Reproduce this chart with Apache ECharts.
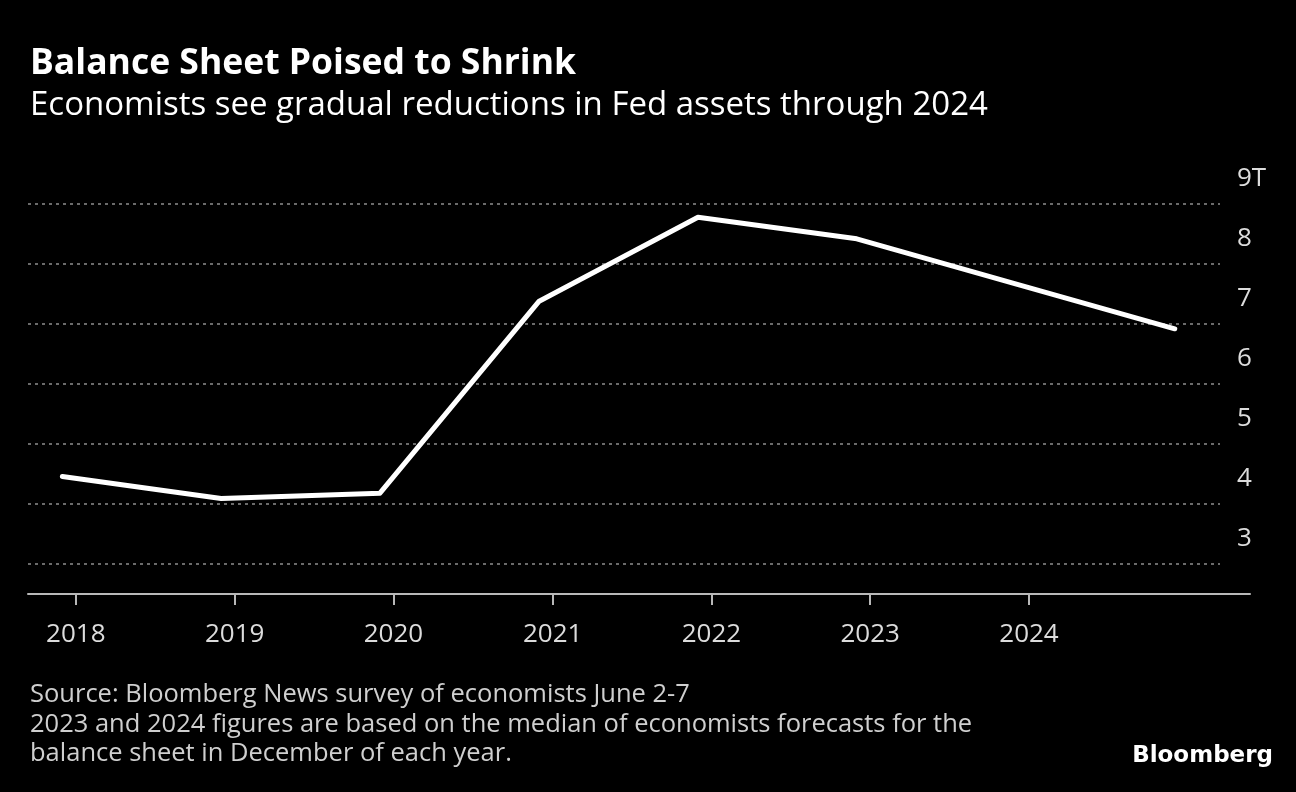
<!DOCTYPE html>
<html>
<head>
<meta charset="utf-8">
<style>
  html, body { margin: 0; padding: 0; background: #000; }
  #chart { width: 1296px; height: 792px; }
</style>
<script src="https://cdn.jsdelivr.net/npm/echarts@6/dist/echarts.min.js"></script>
</head>
<body>
<div id="chart"></div>
<script>
// ---- data ----
const dates = ['2017-12-01', '2018-12-01', '2019-12-01', '2020-12-01', '2021-12-01', '2022-12-01', '2023-12-01', '2024-12-01'];
const assets = [4.46, 4.09, 4.18, 7.38, 8.78, 8.42, 7.67, 6.92];
const yTicks = [3, 4, 5, 6, 7, 8, 9];
const xTickYears = [2018, 2019, 2020, 2021, 2022, 2023, 2024];

const FONT = 'Open Sans';
const ts = s => Date.UTC(+s.slice(0, 4), +s.slice(5, 7) - 1, +s.slice(8, 10));
const chart = echarts.init(document.getElementById('chart'));

const seriesData = dates.map((d, i) => [ts(d), assets[i]]);
const xTickValues = xTickYears.map(y => Date.UTC(y, 0, 1));

chart.setOption({
  backgroundColor: '#000',
  animation: false,
  title: [
    {
      text: 'Balance Sheet Poised to Shrink',
      left: 30, top: 46, padding: 0,
      textStyle: { color: '#fff', fontFamily: FONT, fontWeight: 'bold', fontSize: 35.5, lineHeight: 36 }
    },
    {
      text: 'Economists see gradual reductions in Fed assets through 2024',
      left: 30, top: 89, padding: 0,
      textStyle: { color: '#fff', fontFamily: FONT, fontWeight: 'normal', fontSize: 33, lineHeight: 33 }
    },
    {
      text: 'Source: Bloomberg News survey of economists June 2-7\n2023 and 2024 figures are based on the median of economists forecasts for the\nbalance sheet in December of each year.',
      left: 30, top: 680, padding: 0,
      textStyle: { color: '#cfcfcf', fontFamily: FONT, fontWeight: 'normal', fontSize: 25.5, lineHeight: 29.5 }
    },
    {
      text: 'Bloomberg',
      right: 23, top: 745, padding: 0,
      textStyle: { color: '#fff', fontFamily: 'DejaVu Sans', fontWeight: 'bold', fontSize: 23, lineHeight: 23 }
    }
  ],
  grid: [
    { left: 28, right: 76, top: 204, bottom: 198 },
    { left: 28, right: 46, top: 204, bottom: 198 }
  ],
  xAxis: [
    {
      type: 'value', gridIndex: 0,
      min: ts('2017-09-13'), max: ts('2025-03-15'),
      show: false
    },
    {
      type: 'value', gridIndex: 1,
      min: ts('2017-09-13'), max: ts('2025-05-23'),
      axisLine: { show: true, lineStyle: { color: '#b8b8b8', width: 2 } },
      axisTick: { show: true, length: 11, customValues: xTickValues, lineStyle: { color: '#b8b8b8', width: 2 } },
      axisLabel: {
        customValues: xTickValues,
        formatter: v => String(new Date(v).getUTCFullYear()),
        color: '#dcdcdc', fontFamily: FONT, fontSize: 26, lineHeight: 26, margin: 28
      },
      splitLine: { show: false }
    }
  ],
  yAxis: [
    {
      type: 'value', gridIndex: 0, position: 'right',
      min: 2.5, max: 9,
      axisLine: { show: false },
      axisTick: { show: false, customValues: yTicks },
      axisLabel: {
        customValues: yTicks,
        formatter: v => (v === 9 ? '9T' : String(v)),
        color: '#dcdcdc', fontFamily: FONT, fontSize: 26,
        margin: 17, align: 'left', verticalAlign: 'bottom',
        lineHeight: 26, padding: [0, 0, 12, 0]
      },
      splitLine: { show: true, lineStyle: { color: '#6a6a6a', width: 2, type: [3, 4] } }
    },
    {
      type: 'value', gridIndex: 1, min: 0, max: 1, show: false
    }
  ],
  series: [
    {
      type: 'line',
      xAxisIndex: 0, yAxisIndex: 0,
      data: seriesData,
      showSymbol: false,
      lineStyle: { color: '#fff', width: 5, cap: 'round', join: 'round' },
      z: 5
    }
  ]
});
</script>
</body>
</html>
